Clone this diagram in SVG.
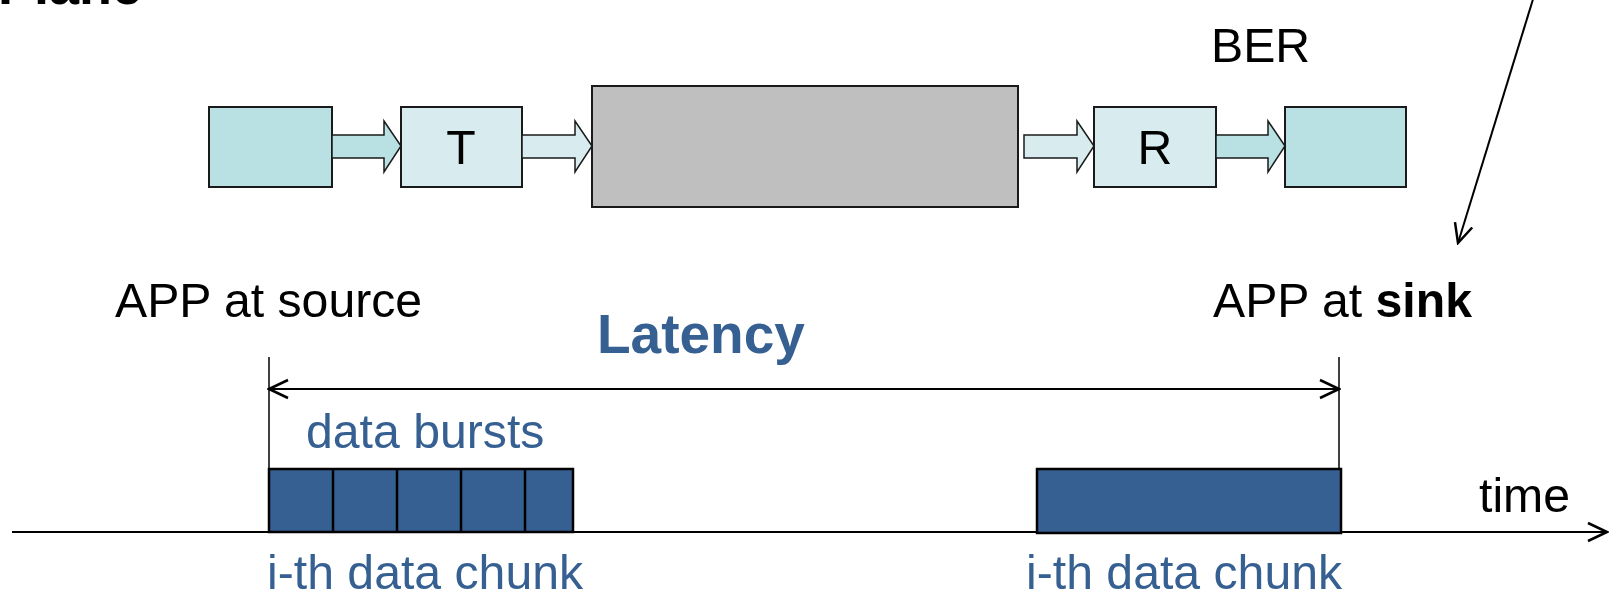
<svg xmlns="http://www.w3.org/2000/svg" width="1609" height="593" viewBox="0 0 1609 593">
  <style>
    .txt { font-family: "Liberation Sans", Arial, sans-serif; font-size: 48.2px; fill: #000; }
    .blue { fill: #376092; }
    .bold { font-weight: bold; }
    .app { fill: #B9E0E3; stroke: #1a1a1a; stroke-width: 2; }
    .blk { fill: #D8ECEF; stroke: #1a1a1a; stroke-width: 2; }
    .chan { fill: #BFBFBF; stroke: #1a1a1a; stroke-width: 2; }
    .flow-dark { fill: #B9E0E3; stroke: #1a1a1a; stroke-width: 1.5; stroke-linejoin: miter; }
    .flow-light { fill: #D8ECEF; stroke: #1a1a1a; stroke-width: 1.5; stroke-linejoin: miter; }
    .burst { fill: #376092; stroke: #000; stroke-width: 2.5; }
    .ln { fill: none; stroke: #000; stroke-width: 2; }
    .tick { fill: none; stroke: #000; stroke-width: 1.5; }
  </style>
  <defs>
    <marker id="open" markerUnits="userSpaceOnUse" markerWidth="24" markerHeight="24" viewBox="-22 -12 24 24" refX="0" refY="0" orient="auto-start-reverse">
      <path d="M -19 -9 L 0 0 L -19 9" fill="none" stroke="#000" stroke-width="2.5"/>
    </marker>
  </defs>

  <rect width="1609" height="593" fill="#fff"/>

  <!-- heading, mostly above the top edge -->
  <text class="txt bold" x="-2" y="4" style="font-size:54px">Plane</text>

  <!-- transmission chain -->
  <g id="source">
    <rect class="app" x="209" y="107" width="123" height="80"/>
  </g>
  <g id="transmitter">
    <rect class="blk" x="401" y="107" width="121" height="80"/>
    <text class="txt" x="461" y="164" text-anchor="middle">T</text>
  </g>
  <g id="channel">
    <rect class="chan" x="592" y="86" width="426" height="121"/>
  </g>
  <g id="receiver">
    <rect class="blk" x="1094" y="107" width="122" height="80"/>
    <text class="txt" x="1155" y="164" text-anchor="middle">R</text>
  </g>
  <g id="sink">
    <rect class="app" x="1285" y="107" width="121" height="80"/>
  </g>

  <g id="connectors">
    <polygon class="flow-dark" points="332,135 384,135 384,121 401,146 384,172 384,158 332,158"/>
    <polygon class="flow-light" points="522,135 575,135 575,121 592,146 575,172 575,158 522,158"/>
    <polygon class="flow-light" points="1024,135 1077,135 1077,121 1094,146 1077,172 1077,158 1024,158"/>
    <polygon class="flow-dark" points="1216,135 1268,135 1268,121 1285,146 1268,172 1268,158 1216,158"/>
    <!-- pointer down to the sink label -->
    <line class="ln" x1="1534" y1="-4" x2="1458" y2="243" marker-end="url(#open)"/>
    <!-- latency span -->
    <line class="tick" x1="269" y1="357" x2="269" y2="469"/>
    <line class="tick" x1="1339" y1="357" x2="1339" y2="469"/>
    <line class="ln" x1="269" y1="389" x2="1339" y2="389" marker-start="url(#open)" marker-end="url(#open)"/>
    <!-- time axis -->
    <line class="ln" x1="12" y1="532" x2="1607" y2="532" marker-end="url(#open)"/>
  </g>

  <!-- labels -->
  <text class="txt" x="1211" y="62">BER</text>
  <text class="txt" x="115" y="317">APP at source</text>
  <text class="txt" x="1213" y="317">APP at <tspan class="bold">sink</tspan></text>
  <text class="txt blue bold" x="597" y="353" style="font-size:55px">Latency</text>
  <text class="txt blue" x="306" y="448">data bursts</text>
  <text class="txt" x="1479" y="512">time</text>

  <!-- data chunk at the source, split into bursts -->
  <g id="chunk-source">
    <rect class="burst" x="269" y="469" width="304" height="63"/>
    <line class="tick" x1="333" y1="469" x2="333" y2="532" style="stroke-width:2.5"/>
    <line class="tick" x1="397" y1="469" x2="397" y2="532" style="stroke-width:2.5"/>
    <line class="tick" x1="461" y1="469" x2="461" y2="532" style="stroke-width:2.5"/>
    <line class="tick" x1="525" y1="469" x2="525" y2="532" style="stroke-width:2.5"/>
    <text class="txt blue" x="267" y="589">i-th data chunk</text>
  </g>

  <!-- same chunk delivered at the sink -->
  <g id="chunk-sink">
    <rect class="burst" x="1037" y="469" width="304" height="64"/>
    <text class="txt blue" x="1026" y="589">i-th data chunk</text>
  </g>
</svg>
